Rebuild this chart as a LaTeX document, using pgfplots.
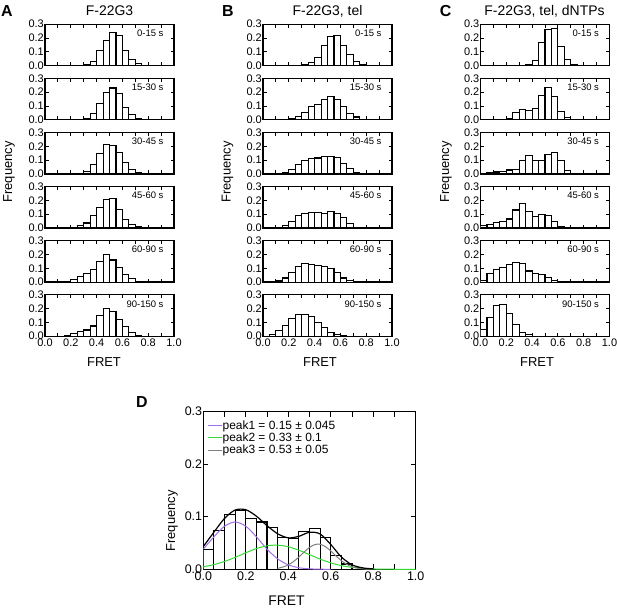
\documentclass[border=0pt]{standalone}
\usepackage{fontspec}
\setmainfont{Liberation Sans}
\usepackage{pgfplots}
\pgfplotsset{compat=1.18}

\definecolor{pk1}{RGB}{160,110,230}
\definecolor{pk2}{RGB}{50,220,50}
\definecolor{pk3}{RGB}{128,128,128}

\pgfplotsset{
  hist/.style={
    scale only axis, anchor=south west,
    width=129bp, height=41.5bp,
    xmin=0, xmax=1, ymin=0, ymax=0.3,
    xtick={0,0.2,0.4,0.6,0.8,1}, minor xtick={0.1,0.3,0.5,0.7,0.9},
    ytick={0,0.1,0.2,0.3}, yticklabels={0.0,0.1,0.2,0.3}, xticklabels={},
    tick align=inside, major tick length=3.5bp, minor tick length=3.5bp,
    every tick/.style={black, line width=0.9bp},
    axis line style={line width=1.3bp},
    tick label style={font=\fontsize{11}{11}\selectfont},
    yticklabel style={inner sep=1bp},
    xticklabel style={inner sep=1bp, yshift=-1bp},
  },
  botrow/.style={xticklabels={0.0,0.2,0.4,0.6,0.8,1.0}},
  bars/.style={/tikz/ybar interval, fill=white, draw=black, line width=1.1bp},
}
\tikzset{tlab/.style={anchor=east, inner sep=0pt, font=\fontsize{9.5}{10}\selectfont}}

% x of left edge, y of bottom edge (image px), time label, data
\newcommand\panel[5][]{%
  \begin{axis}[hist, at={(#2bp,-#3bp)}, #1]
  \addplot[bars] coordinates {#5};
  \node[tlab] at (rel axis cs:0.92,0.78) {#4};
  \end{axis}}

\begin{document}
\begin{tikzpicture}
\useasboundingbox (0,0) rectangle (617bp,-611bp);

% ---- A : F-22G3
\panel{45}{65.7}{0-15 s}{(0.30,0.008)(0.35,0.03)(0.40,0.11)(0.45,0.18)(0.50,0.24)(0.55,0.22)(0.60,0.11)(0.65,0.045)(0.70,0.015)(0.75,0)}
\panel{45}{119.8}{15-30 s}{(0.30,0.01)(0.35,0.045)(0.40,0.12)(0.45,0.20)(0.50,0.23)(0.55,0.19)(0.60,0.09)(0.65,0.04)(0.70,0.012)(0.75,0)}
\panel{45}{173.9}{30-45 s}{(0.30,0.017)(0.35,0.067)(0.40,0.145)(0.45,0.21)(0.50,0.205)(0.55,0.155)(0.60,0.08)(0.65,0.033)(0.70,0.01)(0.75,0)}
\panel{45}{228.0}{45-60 s}{(0.25,0.017)(0.30,0.036)(0.35,0.089)(0.40,0.146)(0.45,0.206)(0.50,0.216)(0.55,0.137)(0.60,0.06)(0.65,0.026)(0.70,0.008)(0.75,0)}
\panel{45}{282.1}{60-90 s}{(0.20,0.022)(0.25,0.04)(0.30,0.065)(0.35,0.094)(0.40,0.15)(0.45,0.197)(0.50,0.16)(0.55,0.108)(0.60,0.058)(0.65,0.026)(0.70,0)}
\panel[botrow]{45}{336.2}{90-150 s}{(0.15,0.005)(0.20,0.019)(0.25,0.036)(0.30,0.045)(0.35,0.074)(0.40,0.152)(0.45,0.2)(0.50,0.176)(0.55,0.124)(0.60,0.067)(0.65,0.024)(0.70,0.007)(0.75,0)}

% ---- B : F-22G3, tel
\panel{263}{65.7}{0-15 s}{(0.30,0.005)(0.35,0.024)(0.40,0.06)(0.45,0.145)(0.50,0.21)(0.55,0.22)(0.60,0.145)(0.65,0.08)(0.70,0.03)(0.75,0.01)(0.80,0)}
\panel{263}{119.8}{15-30 s}{(0.20,0.008)(0.25,0.027)(0.30,0.056)(0.35,0.093)(0.40,0.112)(0.45,0.146)(0.50,0.166)(0.55,0.149)(0.60,0.093)(0.65,0.044)(0.70,0.02)(0.75,0)}
\panel{263}{173.9}{30-45 s}{(0.15,0.008)(0.20,0.03)(0.25,0.07)(0.30,0.097)(0.35,0.11)(0.40,0.115)(0.45,0.125)(0.50,0.126)(0.55,0.12)(0.60,0.075)(0.65,0.04)(0.70,0.012)(0.75,0)}
\panel{263}{228.0}{45-60 s}{(0.15,0.02)(0.20,0.05)(0.25,0.088)(0.30,0.107)(0.35,0.11)(0.40,0.112)(0.45,0.108)(0.50,0.118)(0.55,0.103)(0.60,0.075)(0.65,0.035)(0.70,0)}
\panel{263}{282.1}{60-90 s}{(0.10,0.008)(0.15,0.03)(0.20,0.068)(0.25,0.11)(0.30,0.135)(0.35,0.13)(0.40,0.12)(0.45,0.113)(0.50,0.1)(0.55,0.07)(0.60,0.03)(0.65,0.01)(0.70,0)}
\panel[botrow]{263}{336.2}{90-150 s}{(0.05,0.01)(0.10,0.04)(0.15,0.075)(0.20,0.13)(0.25,0.155)(0.30,0.158)(0.35,0.14)(0.40,0.1)(0.45,0.065)(0.50,0.03)(0.55,0.015)(0.60,0.005)(0.65,0)}

% ---- C : F-22G3, tel, dNTPs
\panel{480.5}{65.7}{0-15 s}{(0.30,0.003)(0.35,0.008)(0.40,0.04)(0.45,0.165)(0.50,0.26)(0.55,0.27)(0.60,0.14)(0.65,0.045)(0.70,0.008)(0.75,0)}
\panel{480.5}{119.8}{15-30 s}{(0.20,0.012)(0.25,0.055)(0.30,0.072)(0.35,0.068)(0.40,0.08)(0.45,0.175)(0.50,0.233)(0.55,0.17)(0.60,0.06)(0.65,0.015)(0.70,0)}
\panel{480.5}{173.9}{30-45 s}{(0.05,0.007)(0.10,0.014)(0.15,0.02)(0.20,0.028)(0.25,0.033)(0.30,0.095)(0.35,0.13)(0.40,0.1)(0.45,0.1)(0.50,0.14)(0.55,0.152)(0.60,0.095)(0.65,0.025)(0.70,0)}
\panel{480.5}{228.0}{45-60 s}{(0.00,0.015)(0.05,0.025)(0.10,0.04)(0.15,0.05)(0.20,0.065)(0.25,0.13)(0.30,0.175)(0.35,0.12)(0.40,0.08)(0.45,0.095)(0.50,0.088)(0.55,0.05)(0.60,0.008)(0.65,0)}
\panel{480.5}{282.1}{60-90 s}{(0.00,0.012)(0.05,0.06)(0.10,0.09)(0.15,0.105)(0.20,0.125)(0.25,0.14)(0.30,0.135)(0.35,0.08)(0.40,0.06)(0.45,0.057)(0.50,0.035)(0.55,0.01)(0.60,0)}
\panel[botrow]{480.5}{336.2}{90-150 s}{(0.00,0.05)(0.05,0.135)(0.10,0.22)(0.15,0.23)(0.20,0.165)(0.25,0.085)(0.30,0.025)(0.35,0.01)(0.40,0)}

% ---- D : fitted histogram
\begin{axis}[hist, at={(203.3bp,-569.3bp)}, width=212.4bp, height=157.8bp,
  botrow,
  major tick length=5bp, minor tick length=5bp,
  tick label style={font=\fontsize{12.5}{13}\selectfont},
  legend style={at={(0.017,0.946)}, anchor=north west, draw=none, fill=none,
    inner sep=0pt, row sep=1bp,
    nodes={inner sep=0.5bp, font=\fontsize{12}{13}\selectfont}},
  legend cell align=left,
  legend image code/.code={\draw[#1] (0bp,0bp) -- (14bp,0bp);},
]
\addplot[bars, forget plot] coordinates {(0.00,0.037)(0.05,0.074)(0.10,0.104)(0.15,0.112)(0.20,0.097)(0.25,0.09)(0.30,0.08)(0.35,0.061)(0.40,0.058)(0.45,0.072)(0.50,0.077)(0.55,0.06)(0.60,0.027)(0.65,0.01)(0.70,0.004)(0.75,0.001)(0.80,0)};
\addplot[pk1, line width=1bp, smooth] coordinates {(0.00,0.0384)(0.05,0.0617)(0.10,0.0819)(0.15,0.09)(0.20,0.0819)(0.25,0.0617)(0.30,0.0384)(0.35,0.0198)(0.40,0.0085)(0.45,0.0030)(0.50,0.0009)(0.55,0.0002)(0.60,0)};
\addlegendentry{peak1 = 0.15 ± 0.045}
\addplot[pk2, line width=1bp, smooth] coordinates {(0.00,0.0048)(0.05,0.0089)(0.10,0.0149)(0.15,0.0227)(0.20,0.0314)(0.25,0.0393)(0.30,0.0446)(0.35,0.0459)(0.40,0.0429)(0.45,0.0363)(0.50,0.0279)(0.55,0.0194)(0.60,0.0123)(0.65,0.0070)(0.70,0.0037)(0.75,0.0017)(0.80,0.0007)(0.85,0.0003)(0.90,0.0001)(0.95,0)(1.00,0)};
\addlegendentry{peak2 = 0.33 ± 0.1}
\addplot[pk3, line width=1bp, smooth] coordinates {(0.35,0.0019)(0.375,0.0043)(0.40,0.0084)(0.425,0.0148)(0.45,0.0234)(0.475,0.0330)(0.50,0.0416)(0.525,0.0470)(0.55,0.0476)(0.575,0.0430)(0.60,0.0349)(0.625,0.0253)(0.65,0.0164)(0.675,0.0095)(0.70,0.0049)(0.725,0.0023)(0.75,0.0010)(0.775,0.0003)(0.80,0.0001)};
\addlegendentry{peak3 = 0.53 ± 0.05}
\addplot[black, line width=1.2bp, smooth, forget plot] coordinates {(0.00,0.0432)(0.05,0.0706)(0.10,0.0968)(0.15,0.1127)(0.20,0.1133)(0.25,0.1010)(0.30,0.0830)(0.35,0.0676)(0.40,0.0598)(0.45,0.0627)(0.50,0.0704)(0.55,0.0672)(0.60,0.0472)(0.65,0.0234)(0.70,0.0086)(0.75,0.0027)(0.80,0.0008)};
\end{axis}

% ---- titles, panel letters, axis labels
\node[font=\fontsize{16}{16}\selectfont\bfseries] at (7bp,-11bp) {A};
\node[font=\fontsize{16}{16}\selectfont\bfseries] at (228bp,-11bp) {B};
\node[font=\fontsize{16}{16}\selectfont\bfseries] at (445.5bp,-11bp) {C};
\node[font=\fontsize{16}{16}\selectfont\bfseries] at (142bp,-402bp) {D};
\node[font=\fontsize{14}{14}\selectfont] at (109.5bp,-11bp) {F-22G3};
\node[font=\fontsize{14}{14}\selectfont] at (327.5bp,-11bp) {F-22G3, tel};
\node[font=\fontsize{14}{14}\selectfont] at (544.5bp,-11bp) {F-22G3, tel, dNTPs};
\node[rotate=90, font=\fontsize{13}{13}\selectfont] at (9bp,-172bp) {Frequency};
\node[rotate=90, font=\fontsize{13}{13}\selectfont] at (227.5bp,-172bp) {Frequency};
\node[rotate=90, font=\fontsize{13}{13}\selectfont] at (446bp,-172bp) {Frequency};
\node[rotate=90, font=\fontsize{13}{13}\selectfont] at (172bp,-521bp) {Frequency};
\node[font=\fontsize{13}{13}\selectfont] at (104bp,-362bp) {FRET};
\node[font=\fontsize{13}{13}\selectfont] at (320bp,-362bp) {FRET};
\node[font=\fontsize{13}{13}\selectfont] at (537bp,-362bp) {FRET};
\node[font=\fontsize{14}{14}\selectfont] at (286.5bp,-601bp) {FRET};
\end{tikzpicture}
\end{document}
